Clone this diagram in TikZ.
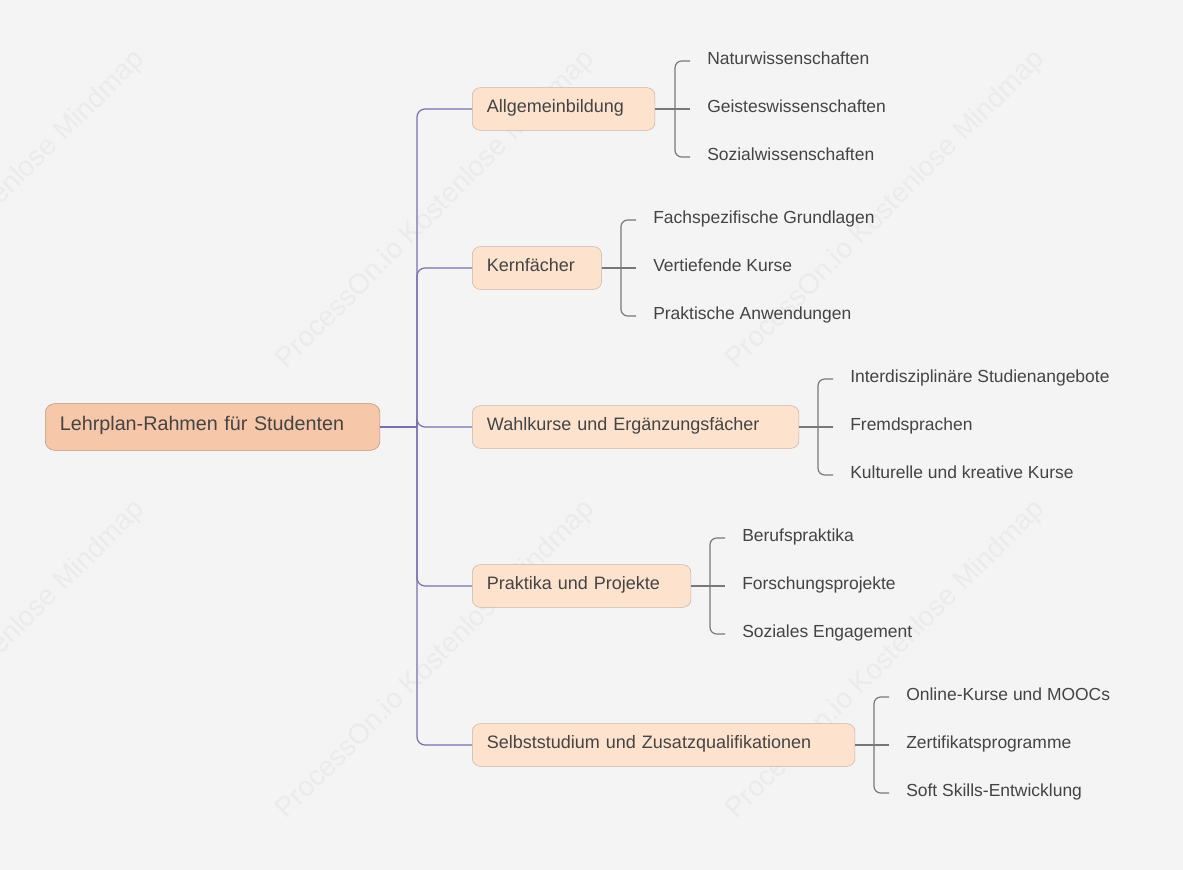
\documentclass[tikz,border=0pt]{standalone}
\usepackage{fontspec}
\setmainfont{Liberation Sans}
\begin{document}
\begin{tikzpicture}[x=0.75pt,y=-0.75pt,
  rootbox/.style={draw=black!25!rootfill,fill=rootfill,rounded corners=7pt,minimum height=35pt,text=txt,font=\fontsize{14.8}{16}\selectfont,anchor=west,inner xsep=11pt,align=left,text height=0.72em,text depth=0.22em},
  mainbox/.style={draw=black!20!mainfill,fill=mainfill,rounded corners=6pt,minimum height=32pt,text=txt,font=\fontsize{13.5}{15}\selectfont,anchor=west,inner xsep=11pt,align=left,text height=0.72em,text depth=0.22em},
  leaf/.style={anchor=west,text=txt,font=\fontsize{13.1}{14}\selectfont,inner sep=0pt,text height=0.72em,text depth=0.22em},
  trunk/.style={draw=linkc,line width=0.9pt,rounded corners=6pt},
  brk/.style={draw=brc,line width=0.9pt,rounded corners=5pt},
  wm/.style={text=black!8,font=\fontsize{21}{22}\selectfont,rotate=45}]
\definecolor{rootfill}{HTML}{F6C7A8}
\definecolor{mainfill}{HTML}{FDE2CD}
\definecolor{txt}{HTML}{444444}
\definecolor{linkc}{HTML}{7A6CB0}
\definecolor{brc}{HTML}{787878}
\fill[fill={rgb,255:red,244;green,244;blue,244}] (0,0) rectangle (1183,870);
\clip (0,0) rectangle (1183,870);
\foreach \x/\y in {436/210,886/210,436/660,886/660,-14/210,-14/660}
  \node[wm] at (\x,\y) {ProcessOn.io Kostenlose Mindmap};
\node[rootbox,text width=229pt] (root) at (45,427) {Lehrplan-Rahmen für Studenten};
\node[mainbox,text width=115pt] (m1) at (472,109) {Allgemeinbildung};
\node[mainbox,text width=75pt] (m2) at (472,268) {Kernfächer};
\node[mainbox,text width=223pt] (m3) at (472,427) {Wahlkurse und Ergänzungsfächer};
\node[mainbox,text width=142pt] (m4) at (472,586) {Praktika und Projekte};
\node[mainbox,text width=265pt] (m5) at (472,745) {Selbststudium und Zusatzqualifikationen};
\coordinate (j) at (417,427);
\draw[trunk] (root.east) -- (j);
\foreach \m in {m1,m2,m3,m4,m5}
  \draw[trunk] (j) |- (\m.west);
\foreach \m/\bx/\a/\b/\c in {
  m1/675/Naturwissenschaften/Geisteswissenschaften/Sozialwissenschaften,
  m2/621/Fachspezifische Grundlagen/Vertiefende Kurse/Praktische Anwendungen,
  m3/818/Interdisziplinäre Studienangebote/Fremdsprachen/Kulturelle und kreative Kurse,
  m4/710/Berufspraktika/Forschungsprojekte/Soziales Engagement,
  m5/874/Online-Kurse und MOOCs/Zertifikatsprogramme/Soft Skills-Entwicklung}{
  \path (\m.east) ++(0,-48) coordinate (\m t);
  \path (\m.east) ++(0,48) coordinate (\m b);
  \node[leaf] (\m a) at ([xshift=\bx*0.75pt+32*0.75pt]0,0 |- \m t) {\a};
  \node[leaf] (\m b2) at ([xshift=\bx*0.75pt+32*0.75pt]0,0 |- \m.east) {\b};
  \node[leaf] (\m c) at ([xshift=\bx*0.75pt+32*0.75pt]0,0 |- \m b) {\c};
  \draw[brc,line width=0.9pt] (\m.east) -- ([xshift=\bx*0.75pt+15*0.75pt]0,0 |- \m.east);
  \draw[brk] ([xshift=\bx*0.75pt+15*0.75pt]0,0 |- \m t) -- ([xshift=\bx*0.75pt]0,0 |- \m t) -- ([xshift=\bx*0.75pt]0,0 |- \m b) -- ([xshift=\bx*0.75pt+15*0.75pt]0,0 |- \m b);
}
\end{tikzpicture}
\end{document}
